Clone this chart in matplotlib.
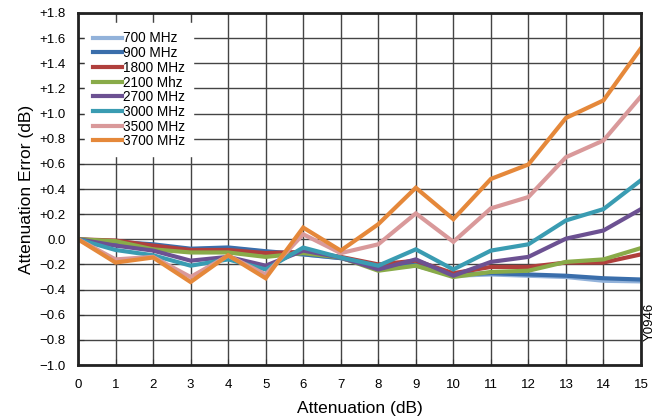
import matplotlib
matplotlib.use("Agg")
import matplotlib.pyplot as plt
import numpy as np

atten = list(range(16))

labels = ['700 MHz', '900 MHz', '1800 MHz', '2100 Mhz', '2700 MHz',
          '3000 MHz', '3500 MHz', '3700 MHz']

err_700 = [0, -0.03, -0.05, -0.08, -0.07, -0.10, -0.12, -0.15,
           -0.23, -0.21, -0.29, -0.28, -0.29, -0.30, -0.33, -0.335]
err_900 = [0, -0.02, -0.04, -0.075, -0.065, -0.095, -0.12, -0.15,
           -0.22, -0.20, -0.28, -0.27, -0.28, -0.29, -0.31, -0.32]
err_1800 = [0, -0.01, -0.05, -0.085, -0.085, -0.11, -0.10, -0.14,
            -0.20, -0.17, -0.27, -0.22, -0.22, -0.185, -0.185, -0.12]
err_2100 = [0, -0.015, -0.08, -0.105, -0.105, -0.14, -0.11, -0.145,
            -0.25, -0.21, -0.30, -0.26, -0.25, -0.18, -0.16, -0.07]
err_2700 = [0, -0.05, -0.09, -0.17, -0.14, -0.21, -0.09, -0.145,
            -0.24, -0.16, -0.29, -0.18, -0.14, 0.005, 0.07, 0.24]
err_3000 = [0, -0.085, -0.127, -0.21, -0.16, -0.24, -0.066, -0.145,
            -0.21, -0.08, -0.24, -0.09, -0.04, 0.15, 0.24, 0.47]
err_3500 = [0, -0.16, -0.14, -0.30, -0.13, -0.28, 0.04, -0.11,
            -0.04, 0.206, -0.02, 0.246, 0.336, 0.653, 0.786, 1.137]
err_3700 = [0, -0.185, -0.145, -0.34, -0.127, -0.31, 0.093, -0.09,
            0.12, 0.41, 0.16, 0.48, 0.595, 0.965, 1.105, 1.52]

series = [err_700, err_900, err_1800, err_2100, err_2700, err_3000, err_3500, err_3700]
colors = ['#92b2da', '#3a6eab', '#b03f3c', '#89ab49', '#6c5192',
          '#3a9cb2', '#d9999a', '#e5883a']

plt.rcParams['font.family'] = ['Liberation Sans', 'DejaVu Sans']

fig = plt.figure(figsize=(6.57, 4.19), dpi=100)
ax = fig.add_axes([78/657, 1-365/419, (641-78)/657, (365-13)/419])

for ys, c, lab in zip(series, colors, labels):
    ax.plot(atten, ys, color=c, lw=3, label=lab, solid_joinstyle='miter')

ax.set_xlim(0, 15)
ax.set_ylim(-1.0, 1.8)
ax.set_xticks(atten)
yt = np.round(np.arange(-1.0, 1.81, 0.2), 1)
ax.set_yticks(yt)
ylabs = []
for v in yt:
    if v > 0:
        ylabs.append('+%.1f' % v)
    elif v < 0:
        ylabs.append('\u2212%.1f' % abs(v))
    else:
        ylabs.append('0.0')
ax.set_yticklabels(ylabs)
ax.tick_params(direction='in', length=4, labelsize=9.5, color='#333333')
ax.tick_params(axis='x', pad=10)
ax.tick_params(axis='y', pad=9)
ax.grid(True, color='#444444', lw=1)
ax.set_axisbelow(True)
for s in ax.spines.values():
    s.set_linewidth(2)
    s.set_color('#222222')

ax.set_xlabel('Attenuation (dB)', fontsize=12.5, labelpad=7)
ax.set_ylabel('Attenuation Error (dB)', fontsize=12.5, labelpad=4)

leg = ax.legend(loc='upper left', bbox_to_anchor=(0.0, 0.99), fontsize=9.8,
                frameon=True, framealpha=1, edgecolor='white', fancybox=False,
                handlelength=2.1, handletextpad=0.1, labelspacing=0.05,
                borderpad=0.6)

fig.text(650/657, 1-322/419, 'Y0946', rotation=90, fontsize=9.5,
         ha='center', va='center')

fig.savefig('out.png', dpi=100)
